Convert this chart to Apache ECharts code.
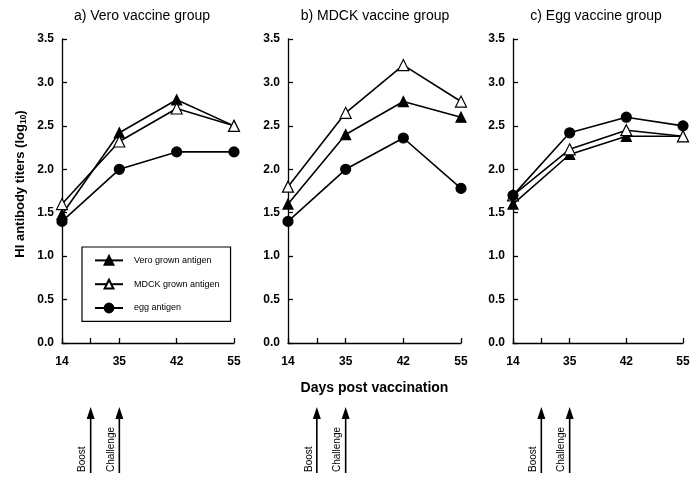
<!DOCTYPE html>
<html>
<head>
<meta charset="utf-8">
<script src="https://cdn.jsdelivr.net/npm/echarts@6/dist/echarts.min.js"></script>
<style>html,body{margin:0;padding:0;background:#fff}#c{width:695px;height:483px}</style>
</head>
<body>
<div id="c"></div>
<script>
// ---- data ----
var panelTitles = ['a) Vero vaccine group', 'b) MDCK vaccine group', 'c) Egg vaccine group'];
var seriesNames = ['Vero grown antigen', 'MDCK grown antigen', 'egg antigen'];
var days = ['14', '35', '42', '55'];
// slots on the x axis: 14, (boost), 35, -, 42, -, 55
var axisSlots = ['14', 'Boost', '35', '', '42', '', '55'];
var daySlot = [0, 2, 4, 6];
var eventSlots = [1, 2];
var eventNames = ['Boost', 'Challenge'];
var yTicks = [0, 0.5, 1, 1.5, 2, 2.5, 3, 3.5];

// panel a) Vero vaccine group
var veroGroupVero = [1.48, 2.42, 2.80, 2.50];
var veroGroupMDCK = [1.60, 2.32, 2.70, 2.50];
var veroGroupEgg  = [1.40, 2.00, 2.20, 2.20];
// panel b) MDCK vaccine group
var mdckGroupVero = [1.60, 2.40, 2.78, 2.60];
var mdckGroupMDCK = [1.80, 2.65, 3.20, 2.78];
var mdckGroupEgg  = [1.40, 2.00, 2.36, 1.78];
// panel c) Egg vaccine group
var eggGroupVero = [1.60, 2.17, 2.38, 2.38];
var eggGroupMDCK = [1.70, 2.23, 2.45, 2.38];
var eggGroupEgg  = [1.70, 2.42, 2.60, 2.50];

var panels = [
  [veroGroupVero, veroGroupMDCK, veroGroupEgg],
  [mdckGroupVero, mdckGroupMDCK, mdckGroupEgg],
  [eggGroupVero, eggGroupMDCK, eggGroupEgg]
];

// ---- layout / style ----
var FONT = 'Liberation Sans, Arial, Helvetica, sans-serif';
var gridLefts = [62, 288, 513];
var gridWidths = [172, 173, 170];
var titleCenters = [137, 370, 591];
var symbols = [
  {symbol: 'triangle', size: 10, color: '#000', border: '#000'},
  {symbol: 'triangle', size: 11, color: '#fff', border: '#000'},
  {symbol: 'circle', size: 10, color: '#000', border: '#000'}
];

var grids = [], xAxes = [], yAxes = [], series = [], titles = [];
for (var p = 0; p < 3; p++) {
  grids.push({left: gridLefts[p], width: gridWidths[p], top: 39, height: 304});
  titles.push({text: panelTitles[p], left: titleCenters[p], top: 4, textAlign: 'center',
    textStyle: {fontFamily: FONT, fontSize: 14, fontWeight: 'normal', color: '#000'}});
  xAxes.push({
    type: 'category', gridIndex: p, data: axisSlots, boundaryGap: false,
    axisLine: {lineStyle: {color: '#000', width: 1.3}},
    axisTick: {inside: true, length: 5, lineStyle: {color: '#000', width: 1.3},
      interval: function (i) { return i === 0 || i === 1 || i === 2 || i === 4 || i === 6; }},
    axisLabel: {interval: function (i) { return daySlot.indexOf(i) >= 0; },
      formatter: function (v, i) { var k = daySlot.indexOf(i); return k >= 0 ? days[k] : ''; },
      margin: 13, fontFamily: FONT, fontSize: 12, fontWeight: 'bold', color: '#000'},
    splitLine: {show: false},
    name: p === 1 ? 'Days post vaccination' : '',
    nameLocation: 'middle', nameGap: 38,
    nameTextStyle: {fontFamily: FONT, fontSize: 14, fontWeight: 'bold', color: '#000'}
  });
  yAxes.push({
    type: 'value', gridIndex: p, min: 0, max: 3.5, interval: 0.5,
    axisLine: {show: true, lineStyle: {color: '#000', width: 1.3}},
    axisTick: {show: true, inside: true, length: 5, lineStyle: {color: '#000', width: 1.3}},
    axisLabel: {formatter: function (v) { return v.toFixed(1); }, margin: 8,
      fontFamily: FONT, fontSize: 12, fontWeight: 'bold', color: '#000'},
    splitLine: {show: false},
    name: p === 0 ? 'HI antibody titers (log{sub|10})' : '',
    nameLocation: 'middle', nameGap: 34, nameRotate: 90,
    nameTextStyle: {fontFamily: FONT, fontSize: 13, fontWeight: 'bold', color: '#000',
      padding: [0, 0, 0, 14],
      rich: {sub: {fontFamily: FONT, fontSize: 8.5, fontWeight: 'bold', color: '#000', verticalAlign: 'bottom', padding: [6, 0, 0, 0]}}}
  });
  for (var s = 0; s < 3; s++) {
    var vals = panels[p][s];
    series.push({
      name: seriesNames[s], type: 'line', xAxisIndex: p, yAxisIndex: p,
      data: vals.map(function (v, k) { return [daySlot[k], v]; }),
      symbol: symbols[s].symbol, symbolSize: symbols[s].size,
      lineStyle: {color: '#000', width: 1.6},
      itemStyle: {color: symbols[s].color, borderColor: symbols[s].border, borderWidth: 1.2},
      emphasis: {disabled: true}, animation: false, z: 2 + s
    });
  }
}

var chart = echarts.init(document.getElementById('c'), null, {renderer: 'canvas'});
chart.setOption({
  backgroundColor: '#fff',
  animation: false,
  title: titles,
  grid: grids, xAxis: xAxes, yAxis: yAxes, series: series,
  legend: {
    data: seriesNames, orient: 'vertical', left: 82, top: 247,
    padding: [8, 11, 8, 12], itemGap: 13, itemWidth: 28, itemHeight: 11,
    borderColor: '#000', borderWidth: 1.2, backgroundColor: '#fff',
    textStyle: {fontFamily: FONT, fontSize: 9, color: '#000', padding: [0, 0, 0, 6]},
    z: 10
  }
});

// annotation arrows (Boost / Challenge) positioned from each panel's x axis
var gr = [];
for (var p2 = 0; p2 < 3; p2++) {
  for (var e = 0; e < eventSlots.length; e++) {
    var x = chart.convertToPixel({xAxisIndex: p2}, eventSlots[e]);
    gr.push({type: 'line', shape: {x1: x, y1: 473, x2: x, y2: 416}, style: {stroke: '#000', lineWidth: 1.6}});
    gr.push({type: 'polygon', shape: {points: [[x - 4, 419], [x + 4, 419], [x, 407]]}, style: {fill: '#000'}});
    gr.push({type: 'text', x: x - 8, y: 472, rotation: Math.PI / 2,
      style: {text: eventNames[e], fontFamily: FONT, fontSize: 10, fill: '#000', align: 'left', verticalAlign: 'middle'}});
  }
}
chart.setOption({graphic: gr});
</script>
</body>
</html>
